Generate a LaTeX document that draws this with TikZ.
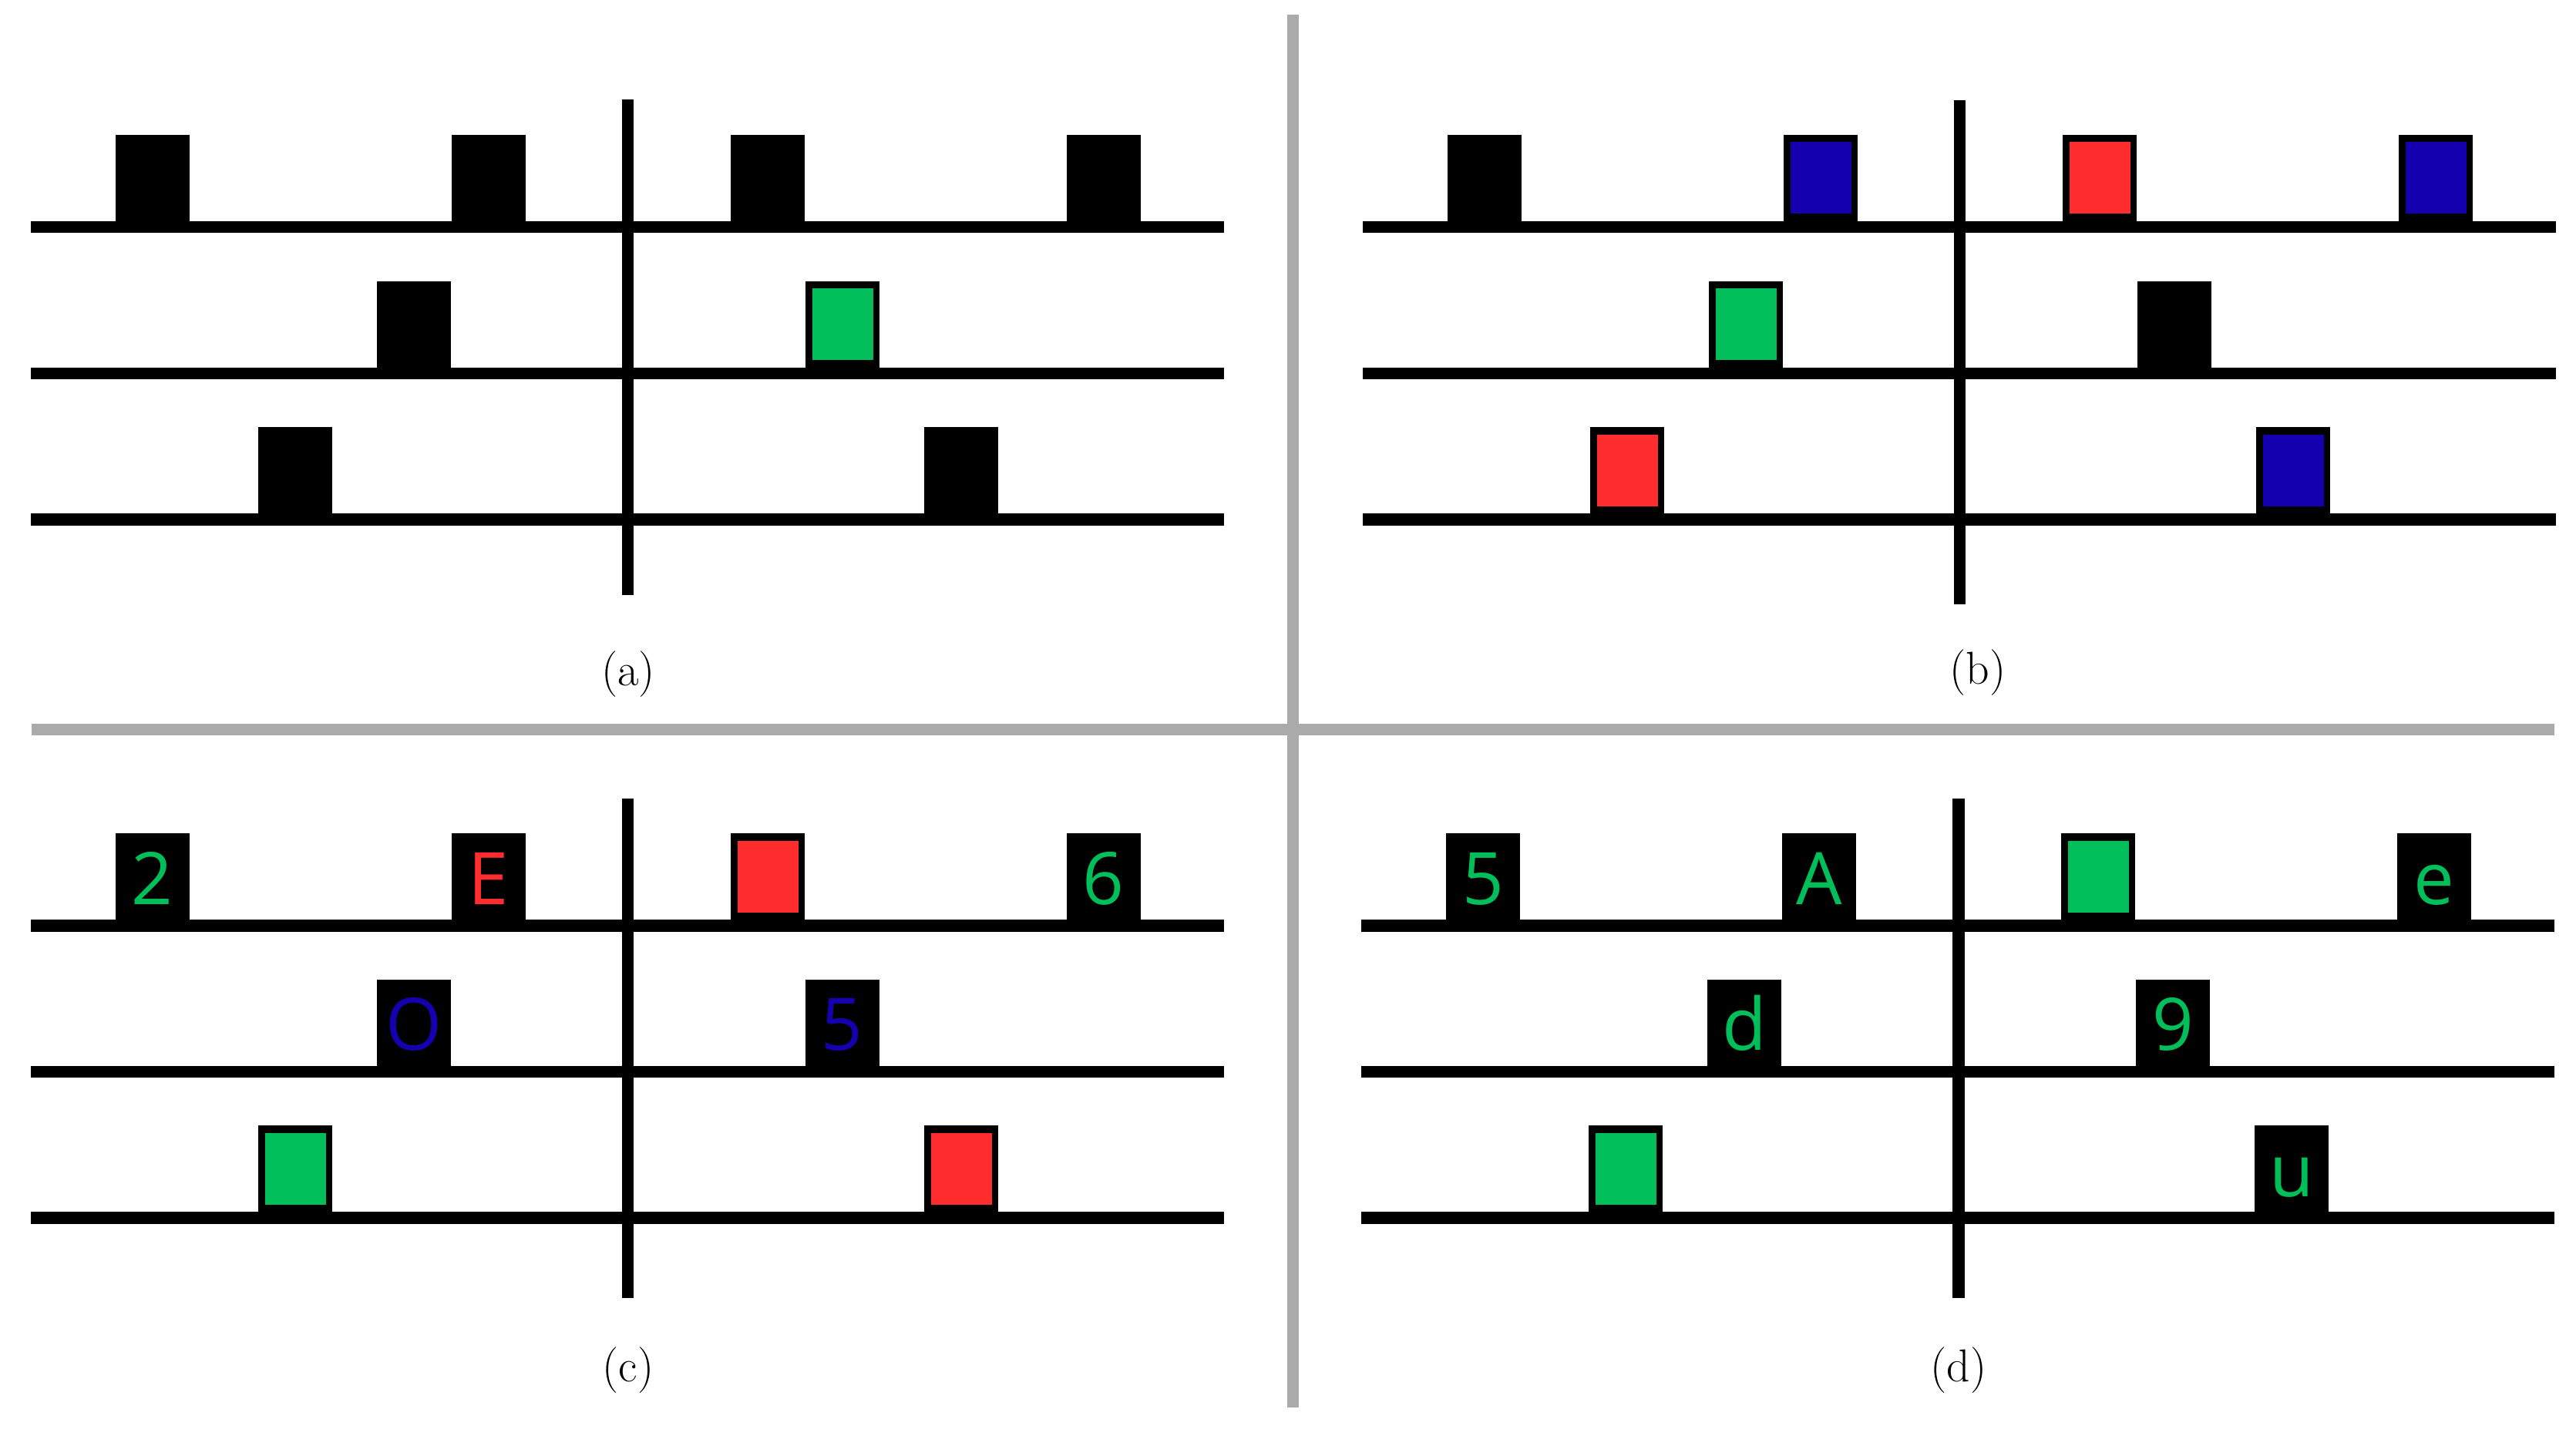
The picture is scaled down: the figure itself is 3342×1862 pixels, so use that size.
\documentclass[tikz,border=0pt]{standalone}
\usepackage{fontspec}
\newfontfamily\boxfont{Open Sans}
\definecolor{cgreen}{HTML}{00BF5A}
\definecolor{cred}{HTML}{FF2D2D}
\definecolor{cblue}{HTML}{1400AE}
\definecolor{sepgrey}{HTML}{AAAAAA}
\tikzset{
  rule/.style={line width=3.1mm, black},
  sepline/.style={line width=3mm, sepgrey},
  glyph/.style={font=\boxfont\fontsize{53.5}{60}\selectfont, anchor=base, inner sep=0pt},
  caption/.style={font=\fontsize{34}{40}\selectfont, anchor=base, inner sep=0pt},
}
% black box sitting on a line: centre x, line y
\newcommand\blkbox[2]{\fill[black] ({#1-48},{#2-120}) rectangle ({#1+48},{#2});}
% coloured box
\newcommand\colbox[3]{\blkbox{#1}{#2}\fill[#3] ({#1-39},{#2-110.5}) rectangle ({#1+40},{#2-17.5});}
% letter box
\newcommand\letbox[5]{\blkbox{#1}{#2}\node[glyph,text=#3] (#5) at ({#1},{#2-28}) {#4};}
% panel lines: centre x, three y, vertical top, vertical bottom
\newcommand\panellines[6]{%
  \draw[rule] ({#1-774.7},#2) -- ({#1+773},#2);
  \draw[rule] ({#1-774.7},#3) -- ({#1+773},#3);
  \draw[rule] ({#1-774.7},#4) -- ({#1+773},#4);
  \draw[rule] (#1,#5) -- (#1,#6);}
\begin{document}
\begin{tikzpicture}[x=0.2mm,y=-0.2mm]
\useasboundingbox (0,0) rectangle (3342,1862);
\fill[white] (0,0) rectangle (3342,1862);
% separators
\draw[sepline] (40.5,946.7) -- (3314,946.7);
\draw[sepline] (1677,19) -- (1677,1826);

% ---------- panel (a)
\def\xa{814.7}
\panellines{\xa}{294.7}{484.5}{674}{129.3}{771.7}
\blkbox{\xa-617}{294.7}
\blkbox{\xa-181}{294.7}
\blkbox{\xa+181}{294.7}
\blkbox{\xa+617}{294.7}
\blkbox{\xa-278}{484.5}
\colbox{\xa+278}{484.5}{cgreen}
\blkbox{\xa-432}{674}
\blkbox{\xa+432}{674}
\node[caption] (capa) at (815,889) {(a)};

% ---------- panel (b)
\def\xb{2542.5}
\panellines{\xb}{294.7}{484.5}{674}{130}{784.3}
\blkbox{\xb-617}{294.7}
\colbox{\xb-181}{294.7}{cblue}
\colbox{\xb+181}{294.7}{cred}
\colbox{\xb+617}{294.7}{cblue}
\colbox{\xb-278}{484.5}{cgreen}
\blkbox{\xb+278}{484.5}
\colbox{\xb-432}{674}{cred}
\colbox{\xb+432}{674}{cblue}
\node[caption] (capb) at (2566,887) {(b)};

% ---------- panel (c)
\def\xc{814.7}
\panellines{\xc}{1201}{1390.5}{1580}{1036}{1684}
\letbox{\xc-617}{1201}{cgreen}{2}{c1}
\letbox{\xc-181}{1201}{cred}{E}{c2}
\colbox{\xc+181}{1201}{cred}
\letbox{\xc+617}{1201}{cgreen}{6}{c4}
\letbox{\xc-278}{1390.5}{cblue}{O}{c5}
\letbox{\xc+278}{1390.5}{cblue}{5}{c6}
\colbox{\xc-432}{1580}{cgreen}
\colbox{\xc+432}{1580}{cred}
\node[caption] (capc) at (815,1792) {(c)};

% ---------- panel (d)
\def\xd{2541}
\panellines{\xd}{1201}{1390.5}{1580}{1036}{1684}
\letbox{\xd-617}{1201}{cgreen}{5}{d1}
\letbox{\xd-181}{1201}{cgreen}{A}{d2}
\colbox{\xd+181}{1201}{cgreen}
\letbox{\xd+617}{1201}{cgreen}{e}{d4}
\letbox{\xd-278}{1390.5}{cgreen}{d}{d5}
\letbox{\xd+278}{1390.5}{cgreen}{9}{d6}
\colbox{\xd-432}{1580}{cgreen}
\letbox{\xd+432}{1580}{cgreen}{u}{d8}
\node[caption] (capd) at (2541,1792) {(d)};
\end{tikzpicture}
\end{document}
